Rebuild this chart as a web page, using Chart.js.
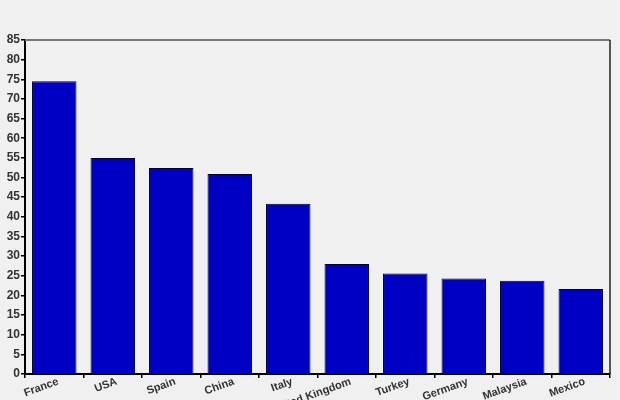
<!DOCTYPE html>
<html>
<head>
<meta charset="utf-8">
<script src="https://cdn.jsdelivr.net/npm/chart.js@4.4.1/dist/chart.umd.min.js"></script>
<style>
html,body{margin:0;padding:0;background:#f0f0f0;}
#wrap{width:620px;height:400px;position:relative;}
</style>
</head>
<body>
<div id="wrap"><canvas id="c" width="620" height="400"></canvas></div>
<script>
const categories = ["France","USA","Spain","China","Italy","United Kingdom","Turkey","Germany","Malaysia","Mexico"];
const arrivals = [74.5, 55.0, 52.4, 50.9, 43.3, 28.0, 25.6, 24.3, 23.7, 21.6];
const yTicks = [0,5,10,15,20,25,30,35,40,45,50,55,60,65,70,75,80,85];

const framePlugin = {
  id: 'frame',
  afterDraw(chart) {
    const {ctx, chartArea: a} = chart;
    ctx.save();
    ctx.strokeStyle = '#777';
    ctx.lineWidth = 2;
    ctx.beginPath();
    ctx.moveTo(a.left, a.top);
    ctx.lineTo(a.right, a.top);
    ctx.stroke();
    ctx.strokeStyle = '#222';
    ctx.lineWidth = 1.5;
    ctx.beginPath();
    ctx.moveTo(a.right, a.top);
    ctx.lineTo(a.right, a.bottom);
    ctx.stroke();
    ctx.restore();
  }
};

new Chart(document.getElementById('c'), {
  type: 'bar',
  data: {
    labels: categories,
    datasets: [{
      data: arrivals,
      backgroundColor: '#0000c4',
      borderColor: '#000033',
      borderWidth: 1,
      barPercentage: 0.76,
      categoryPercentage: 1.0
    }]
  },
  options: {
    responsive: false,
    animation: false,
    layout: { padding: { top: 40, right: 10, left: 0, bottom: 0 } },
    plugins: { legend: { display: false }, tooltip: { enabled: false } },
    scales: {
      x: {
        offset: true,
        grid: { offset: true, drawOnChartArea: false, drawTicks: true, tickLength: 4, color: '#000', lineWidth: 1.5 },
        border: { display: true, color: '#000', width: 2 },
        ticks: {
          maxRotation: 20, minRotation: 20, autoSkip: false,
          color: '#333', padding: -3, labelOffset: 4,
          font: { family: 'Liberation Sans, Arial, sans-serif', size: 11, weight: 'bold' }
        },
        afterFit(scale) { scale.height = 26; }
      },
      y: {
        min: 0, max: 85,
        afterBuildTicks(scale) { scale.ticks = yTicks.map(v => ({ value: v })); },
        grid: { drawOnChartArea: false, drawTicks: true, tickLength: 4, color: '#000', lineWidth: 1.5 },
        border: { display: true, color: '#000', width: 2 },
        ticks: {
          color: '#333', padding: 1,
          font: { family: 'Liberation Sans, Arial, sans-serif', size: 12, weight: 'bold' }
        },
        afterFit(scale) { scale.width = 25; }
      }
    }
  },
  plugins: [framePlugin]
});
</script>
</body>
</html>
